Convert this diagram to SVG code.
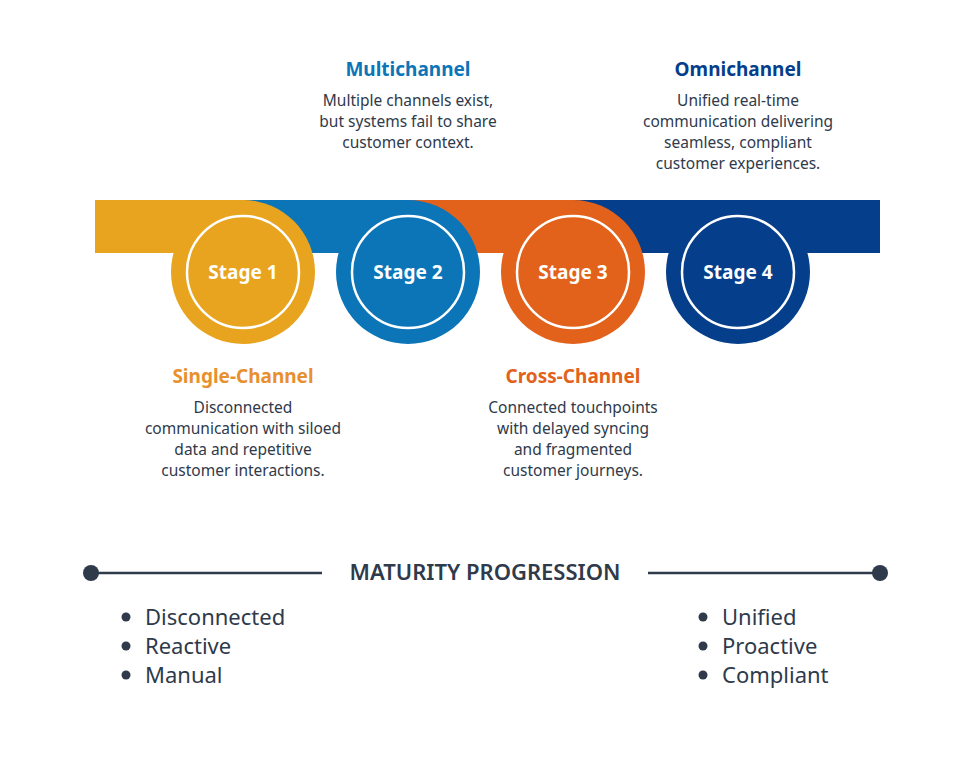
<svg xmlns="http://www.w3.org/2000/svg" width="975" height="763" viewBox="0 0 975 763">
<style>
text{font-family:"Noto Sans","Liberation Sans",sans-serif}
.t{font-size:19px;font-weight:700;text-anchor:middle}
.d{font-size:15.5px;fill:#2F3A4B;text-anchor:middle}
.s{font-size:19px;font-weight:700;fill:#fff;text-anchor:middle}
.ring{fill:none;stroke:#fff;stroke-width:2.5}
.b{font-size:22px;fill:#2F3A4B}
</style>
<rect width="975" height="763" fill="#fff"/>
<g id="stage4"><rect x="573" y="200" width="307" height="53" fill="#053E8A"/><circle cx="738" cy="272" r="72" fill="#053E8A"/><circle class="ring" cx="738" cy="272" r="56"/><text class="s" x="738" y="279">Stage 4</text></g>
<g id="stage3"><rect x="408" y="200" width="165" height="53" fill="#E2621B"/><circle cx="573" cy="272" r="72" fill="#E2621B"/><circle class="ring" cx="573" cy="272" r="56"/><text class="s" x="573" y="279">Stage 3</text></g>
<g id="stage2"><rect x="243" y="200" width="165" height="53" fill="#0B75B8"/><circle cx="408" cy="272" r="72" fill="#0B75B8"/><circle class="ring" cx="408" cy="272" r="56"/><text class="s" x="408" y="279">Stage 2</text></g>
<g id="stage1"><rect x="95" y="200" width="148" height="53" fill="#E8A41E"/><circle cx="243" cy="272" r="72" fill="#E8A41E"/><circle class="ring" cx="243" cy="272" r="56"/><text class="s" x="243" y="279">Stage 1</text></g>
<g id="multichannel"><text class="t" x="408" y="76" fill="#0B75B8">Multichannel</text><text class="d" x="408" y="106">Multiple channels exist,</text><text class="d" x="408" y="127">but systems fail to share</text><text class="d" x="408" y="148">customer context.</text></g>
<g id="omnichannel"><text class="t" x="738" y="76" fill="#053E8A">Omnichannel</text><text class="d" x="738" y="106">Unified real-time</text><text class="d" x="738" y="127">communication delivering</text><text class="d" x="738" y="148">seamless, compliant</text><text class="d" x="738" y="169">customer experiences.</text></g>
<g id="single"><text class="t" x="243" y="383" fill="#E8902E">Single-Channel</text><text class="d" x="243" y="413">Disconnected</text><text class="d" x="243" y="434">communication with siloed</text><text class="d" x="243" y="455">data and repetitive</text><text class="d" x="243" y="476">customer interactions.</text></g>
<g id="cross"><text class="t" x="573" y="383" fill="#E2621B">Cross-Channel</text><text class="d" x="573" y="413">Connected touchpoints</text><text class="d" x="573" y="434">with delayed syncing</text><text class="d" x="573" y="455">and fragmented</text><text class="d" x="573" y="476">customer journeys.</text></g>
<g id="connectors" stroke="#2F3A4B" stroke-width="2.5" fill="#2F3A4B"><line x1="91" y1="573" x2="322" y2="573"/><line x1="648" y1="573" x2="880" y2="573"/><circle cx="91" cy="573" r="8" stroke="none"/><circle cx="880" cy="573" r="8" stroke="none"/></g>
<g id="maturity"><text x="485" y="580" font-size="22" font-weight="600" fill="#2F3A4B" text-anchor="middle">MATURITY PROGRESSION</text></g>
<g id="left" fill="#2F3A4B"><circle cx="126" cy="617" r="4.5"/><circle cx="126" cy="646" r="4.5"/><circle cx="126" cy="675" r="4.5"/><text class="b" x="145" y="625">Disconnected</text><text class="b" x="145" y="654">Reactive</text><text class="b" x="145" y="683">Manual</text></g>
<g id="right" fill="#2F3A4B"><circle cx="703" cy="617" r="4.5"/><circle cx="703" cy="646" r="4.5"/><circle cx="703" cy="675" r="4.5"/><text class="b" x="722" y="625">Unified</text><text class="b" x="722" y="654">Proactive</text><text class="b" x="722" y="683">Compliant</text></g>
</svg>
